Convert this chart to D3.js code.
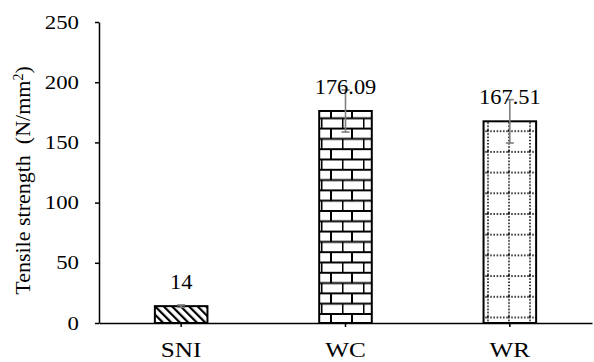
<!DOCTYPE html>
<html>
<head>
<meta charset="utf-8">
<script src="https://cdn.jsdelivr.net/npm/d3@7"></script>
<style>
  body { margin: 0; background: #fff; }
  svg text { font-family: "Liberation Serif", "Times New Roman", serif; fill: #000; }
</style>
</head>
<body>
<div id="chart"></div>
<script>
// data
const categories = ["SNI", "WC", "WR"];
const values = [14, 176.09, 167.51];
const errors = [1, 17.5, 18];
const patterns = ["hatch", "brick", "dots"];
const yTicks = [0, 50, 100, 150, 200, 250];

const width = 594, height = 362;
const margin = {top: 22, right: 2, bottom: 39, left: 99};
const serif = '"Liberation Serif", "Times New Roman", serif';
const stretch = 1.2; // the reference glyphs are a bit wider than Times

const svg = d3.select("#chart").append("svg")
    .attr("width", width).attr("height", height)
    .attr("font-family", serif);

// pattern fills
const defs = svg.append("defs");

const hatch = defs.append("pattern").attr("id", "hatch")
    .attr("width", 6).attr("height", 6)
    .attr("patternUnits", "userSpaceOnUse")
    .attr("patternTransform", "rotate(-45)");
hatch.append("rect").attr("width", 6).attr("height", 6).attr("fill", "#fff");
hatch.append("rect").attr("width", 2.2).attr("height", 6).attr("fill", "#000");

const brick = defs.append("pattern").attr("id", "brick")
    .attr("width", 21).attr("height", 20.6)
    .attr("patternUnits", "userSpaceOnUse")
    .attr("x", 6).attr("y", 4);
brick.append("rect").attr("width", 21).attr("height", 20.6).attr("fill", "#fff");
brick.append("path")
    .attr("d", "M0,1 H21 M0,11.3 H21 M10,1 V11.3 M0.5,11.3 V20.6")
    .attr("stroke", "#000").attr("stroke-width", 2).attr("fill", "none");

const dots = defs.append("pattern").attr("id", "dots")
    .attr("width", 21).attr("height", 20.7)
    .attr("patternUnits", "userSpaceOnUse")
    .attr("x", 4).attr("y", 6);
dots.append("rect").attr("width", 21).attr("height", 20.7).attr("fill", "#fff");
dots.append("path")
    .attr("d", "M0,1 H21 M1,0 V20.7")
    .attr("stroke", "#000").attr("stroke-width", 1.6)
    .attr("stroke-dasharray", "1.6,1.6").attr("fill", "none");

const x = d3.scaleBand()
    .domain(categories)
    .range([margin.left, width - margin.right])
    .paddingInner(0.68)
    .paddingOuter(0.34);

const y = d3.scaleLinear()
    .domain([0, 250])
    .range([height - margin.bottom, margin.top]);

// bars
svg.append("g").selectAll("rect")
    .data(categories)
    .join("rect")
    .attr("x", d => x(d))
    .attr("y", (d, i) => y(values[i]))
    .attr("width", x.bandwidth())
    .attr("height", (d, i) => y(0) - y(values[i]))
    .attr("fill", (d, i) => `url(#${patterns[i]})`)
    .attr("stroke", "#000")
    .attr("stroke-width", 2);

// error bars
const eb = svg.append("g").attr("stroke", "#7f7f7f").attr("stroke-width", 1.6);
categories.forEach((c, i) => {
    const cx = x(c) + x.bandwidth() / 2;
    const y1 = y(values[i] + errors[i]), y2 = y(values[i] - errors[i]);
    eb.append("line").attr("x1", cx).attr("x2", cx).attr("y1", y1).attr("y2", y2);
    eb.append("line").attr("x1", cx - 4).attr("x2", cx + 4).attr("y1", y1).attr("y2", y1);
    eb.append("line").attr("x1", cx - 4).attr("x2", cx + 4).attr("y1", y2).attr("y2", y2);
});

// value labels
svg.append("g").selectAll("text")
    .data(categories)
    .join("text")
    .attr("transform", (d, i) => `translate(${x(d) + x.bandwidth() / 2},${y(values[i]) - 17}) scale(1.12,1)`)
    .attr("text-anchor", "middle")
    .style("font-size", "20px")
    .text((d, i) => values[i]);

// y axis
const yAxis = svg.append("g")
    .attr("transform", `translate(${margin.left},0)`)
    .call(d3.axisLeft(y).tickValues(yTicks).tickSize(4).tickSizeOuter(0))
    .attr("font-family", serif);
yAxis.select(".domain").attr("stroke", "#000").attr("stroke-width", 1.5);
yAxis.selectAll(".tick line").attr("stroke", "#000").attr("stroke-width", 1.5);
yAxis.selectAll(".tick text")
    .attr("x", 0)
    .attr("transform", `translate(-20,0) scale(${stretch},1)`)
    .style("font-size", "19px");

// x axis
const xAxis = svg.append("g")
    .attr("transform", `translate(0,${y(0)})`)
    .call(d3.axisBottom(x).tickSize(4).tickSizeOuter(0))
    .attr("font-family", serif);
xAxis.select(".domain").attr("stroke", "#000").attr("stroke-width", 1.5);
xAxis.selectAll(".tick line").attr("stroke", "#000").attr("stroke-width", 1.5);
xAxis.selectAll(".tick text")
    .attr("y", 34).attr("dy", null)
    .attr("transform", `scale(${stretch},1)`)
    .style("font-size", "21px");

// y axis title
const title = svg.append("text")
    .attr("transform", `translate(30,${(margin.top + y(0)) / 2 + 8}) rotate(-90)`)
    .attr("text-anchor", "middle")
    .style("font-size", "22px");
title.append("tspan").text("Tensile strength\u00a0\u00a0(N/mm");
title.append("tspan").attr("baseline-shift", "super").style("font-size", "14px").text("2");
title.append("tspan").text(")");
</script>
</body>
</html>
